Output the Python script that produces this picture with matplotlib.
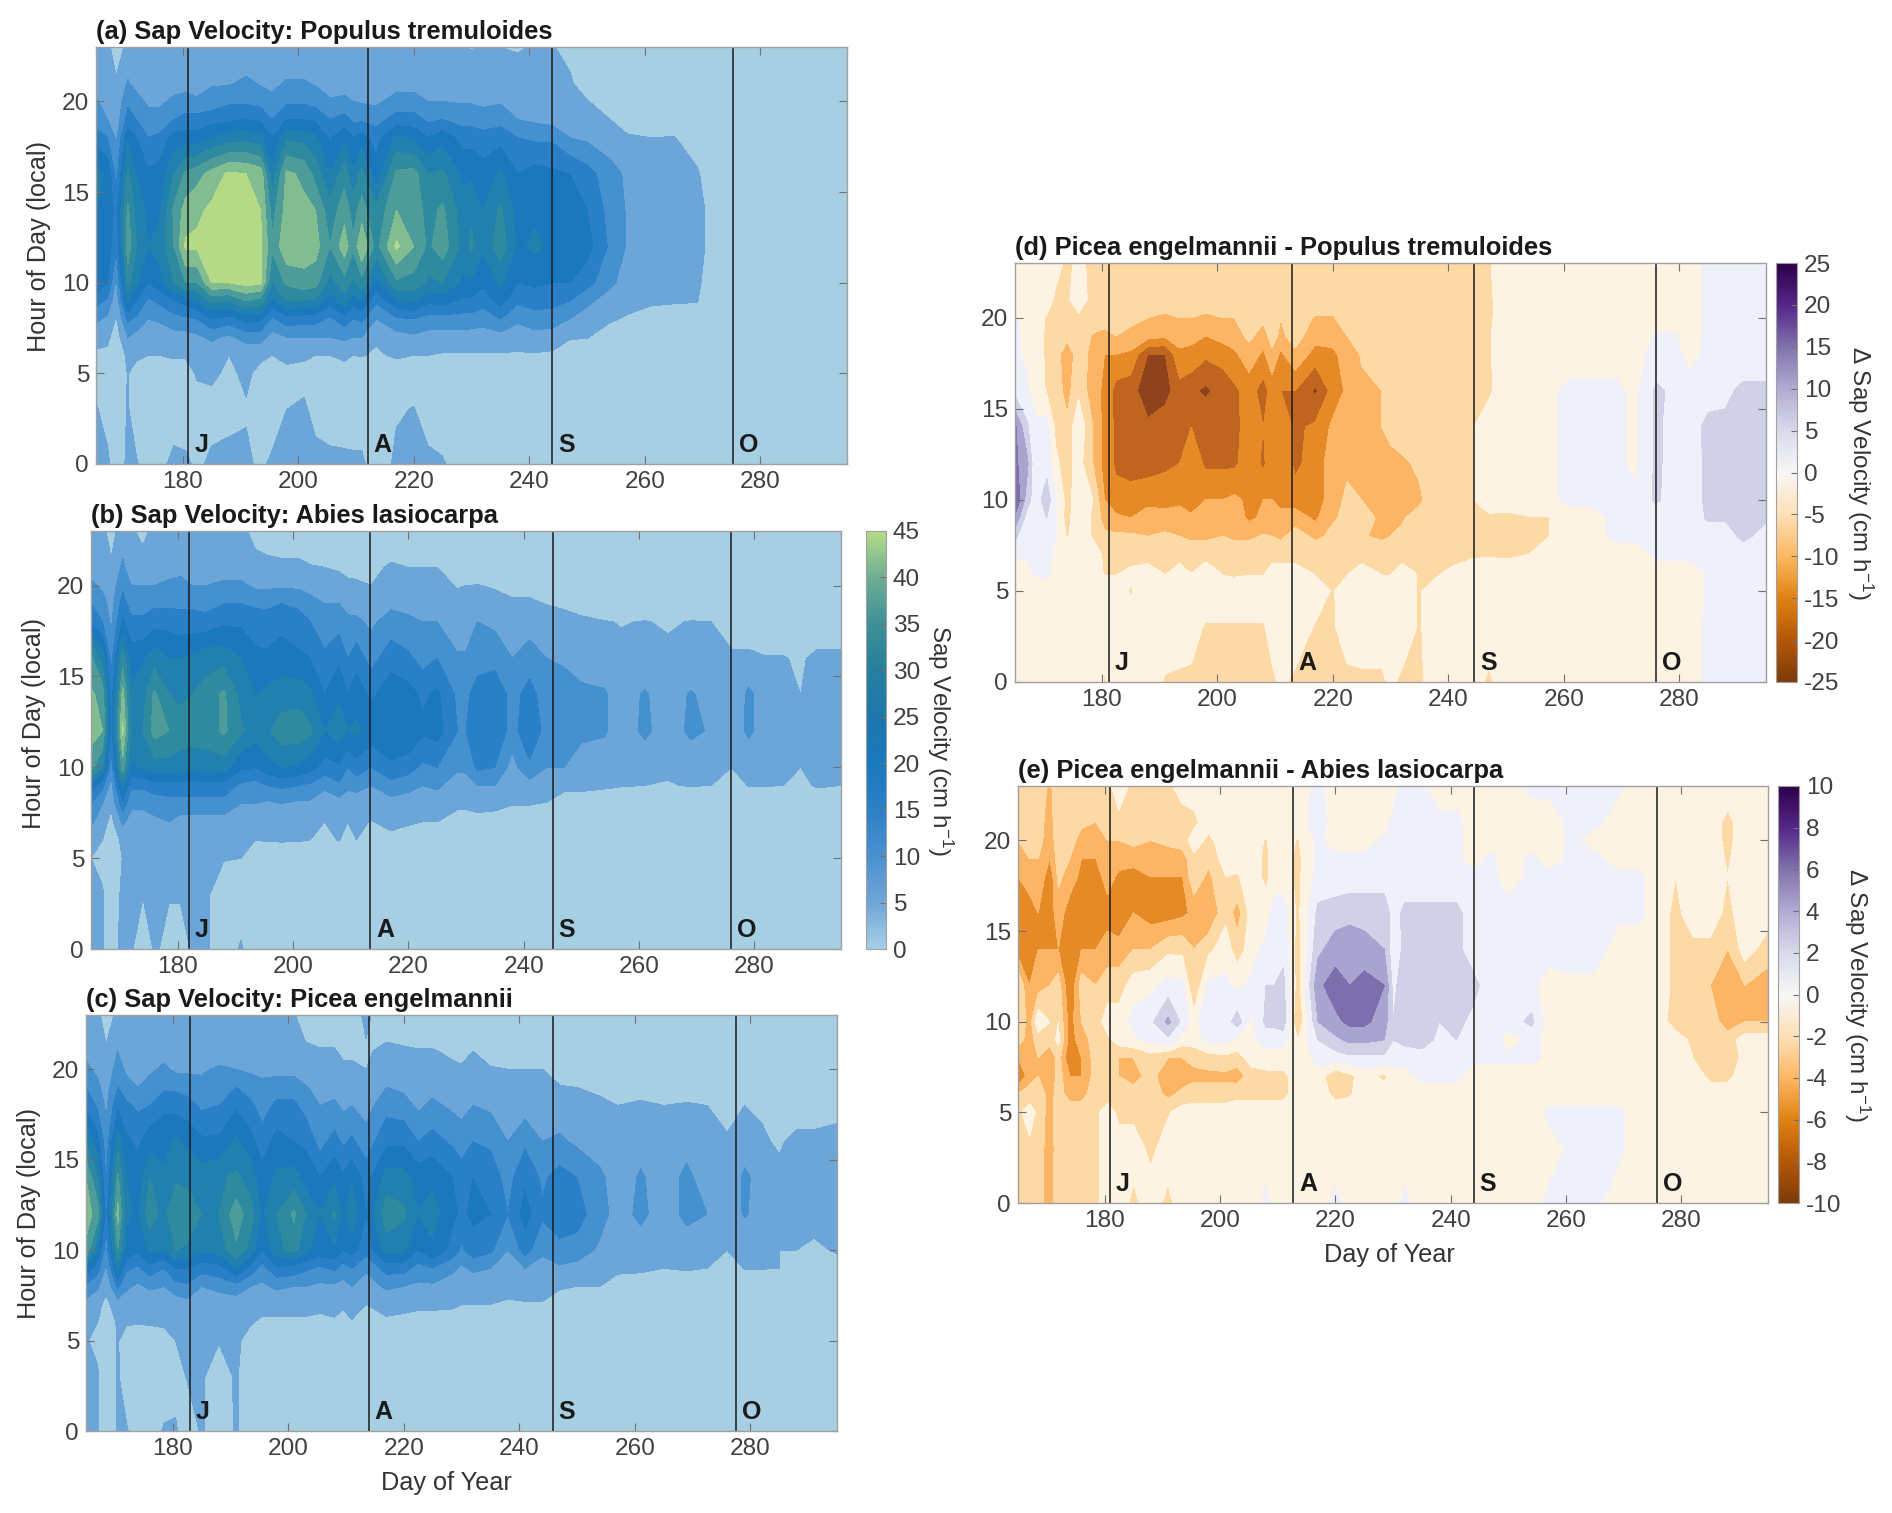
import matplotlib
matplotlib.use("Agg")
import matplotlib.pyplot as plt
import numpy as np
from matplotlib.colors import LinearSegmentedColormap, Normalize
from matplotlib.cm import ScalarMappable

plt.rcParams["font.family"] = ["Liberation Sans", "DejaVu Sans"]
plt.rcParams["mathtext.default"] = "regular"
plt.rcParams["axes.unicode_minus"] = False

W, H = 1892, 1513

# grid the values were read on, columns sit on the wet/dry day stripes
days = [165,167,168.5,170.5,172,174,176,178.5,180.5,182.5,
        185,188,191,193.5,195.5,198,201,203,205.5,208,
        209.5,211,213.5,217,220,222.5,225,228.5,230,232,
        235,238,241,244,247,250,254,257,261,265,
        269,272.5,276,279,282,285,288,291,295]
hours = [0,3,5,6,7,8,9,10,12,14,16,18,19,20,21,23]

sap_a = [
 [6,6,2,6,5.5,2,4,6,6,4, 6,6,6,4,6,6,6,6,6,6, 6,6,2,6,6,6,5.5,2,2,2, 5,2,2,2,2,2,2,2,2,2, 1,1,1,1,1,1,1,1,1],
 [5.5,3,1,5.5,2,2,2,3,2,3, 3,4,4.5,2,2,5,5.5,4,3,2.5, 2,2,2,4.5,5.2,3,2,2,2,2, 2,2,2,2,2,2,2,2,2,2, 1,1,1,1,1,1,1,1,1],
 [3,3,1,5.2,3,3,3,3,3,5.5, 6,4,6,3.5,3,4,4,3,3,3, 3,3,3,3,3,3,3,3,3,3, 3,3,3,3,2,2,2,2,2,2, 1,1,1,1,1,1,1,1,1],
 [4,4,1.5,6,6,5,5,5.5,5.5,6.5, 7,5,6.5,6,5,6,5.5,5,5,6, 5,5.2,4.5,5.5,5,5,4.5,4.5,4.5,4.5, 4.5,4.5,4.5,4,2,2,2,2,2,2, 1,1,1,1,1,1,1,1,1],
 [7,6,2.5,10,8,6,6,8,8,9, 11,9,12,12,8,10,10,10,10,11, 10,10,5.5,8,9,8,8,8,7.5,7.5, 8,7,8,8,5.5,5.2,3,2,2,2, 1,1,1,1,1,1,1,1,1],
 [11,9,4.5,16,14,10,11,13,14,15, 20,18,22,21,14,18,17,17,14,18, 15,16,10,14,15,13,13,13,13,12, 15,11,13,12,10,8,5.5,4.5,4.5,4, 3,1,1,1,1,1,1,1,1],
 [17,14,6,26,20,14,16,20,22,25, 31,30,35,33,24,30,30,29,22,28, 22,25,16,24,26,21,22,19,19,17, 22,16,17,17,15,11,8,6.5,5.2,5.2, 5.2,2,1,1,1,1,1,1,1],
 [24,20,9,32,26,20,23,30,35,35, 45,45,47,46,30,36,38,37,28,33, 29,33,23,34,33,29,30,24,24,21, 26,20,21,20,20,17,11,8,6.5,6.5, 5.8,2,1,1,1,1,1,1,1],
 [24,23,16,38,30,25,27,35,46,46, 47,48,48,46,36,44,43,42,35,43, 36,45,33,46,40,34,38,28,31,26, 33,24,26,24,24,22,14,9.5,8,8, 7,2,1,1,1,1,1,1,1],
 [25,24,18,36,28,24,24,36,42,44, 46,47,47,45,33,42,41,40,32,38, 33,37,31,40,38,33,36,27,29,25, 31,23,24,23,23,20,13,9.5,8,8, 7,2,1,1,1,1,1,1,1],
 [27,24,13,31,25,21,22,30,36,38, 42,46,45,43,27,41,39,33,25,33, 26,32,22,36,37,30,31,24,24,22, 26,20,22,21,20,17,12,9,7.5,7, 5.5,2,1,1,1,1,1,1,1],
 [18,15,9,24,20,15,16,22,22,22, 25,27,28,26,20,29,28,26,19,24, 20,22,18,26,24,20,23,18,18,17, 18,15,14,14,10,9,7,5.5,5,5.2, 3,1,1,1,1,1,1,1,1],
 [12,10,7,17,15,12,12,15,17,17, 18,19,20,19,15,20,20,19,15,17, 14,14,13,17,17,14,15,13,13,12, 13,10,9,8,7.5,6.5,5,3,2,2, 1,1,1,1,1,1,1,1,1],
 [10.5,8,6,14,12,9,9,11,11,11, 12,14,14,13,11,14,14,13,10.5,11, 10,9.5,9,12,12,10,10,9.5,9.5,9, 9.5,8,7,6.5,6,5.2,3,2,2,2, 1,1,1,1,1,1,1,1,1],
 [8,6,5.5,10.5,8,6,7,8,9,7, 9.5,9.5,11,9.5,9,10.5,10.5,9.5,8,8, 7,7,6.5,8,8,7,7,7,7,6, 6,6,6,6,5.5,3,2,2,2,2, 1,1,1,1,1,1,1,1,1],
 [6,6,3,6,6,6,6,6,6,6, 6,6,6,6,6,6,6,6,6,6, 6,6,6,6,6,6,5.2,5.2,4.8,5.2, 5,4.8,5.2,5.2,4,2,2,2,2,2, 1,1,1,1,1,1,1,1,1],
]

sap_b = [
 [5.5,5.5,2,7,5.5,2,5.5,4,2.5,5.5, 5.5,2.5,5.5,2,2,2,2,2,2,2, 2,2,2,2,2,2,2,2,2,2, 2,2,2,2,2,2,2,2,2,2, 2,2,2,2,2,2,2,2,2],
 [5.5,5.5,2,6,5.5,5.2,5.5,5.2,5.5,5.2, 5.5,3,2.5,2,2,2,2,2,2,2, 2,2,2,2,2,2,2,2,2,2, 2,2,2,2,2,2,2,2,2,2, 2,2,2,2,2,2,2,2,2],
 [5,3.5,1.5,5.2,5.2,5.2,5.5,5.5,5.5,5.5, 5.3,5.2,5,4,3,3.5,3,2.5,2,2, 2,2,2,2,2,2,2,2,2,2, 2,2,2,2,2,2,2,2,2,2, 2,2,2,2,2,2,2,2,2],
 [7,5,2.5,6,6,6,6,6,7,6, 6,6,6,5,5.2,5.2,5.2,5,4,5.2, 3.5,5,3,4,3,3,3,2,2,2, 2,2,2,2,2,2,2,2,2,2, 2,2,2,2,2,2,2,2,2],
 [11,7,3.5,11,8,8,9,10,8,8, 8,8,7,6,6,7,6,6,5,6, 5,6,4.8,6,5.5,5,5,4,4,4, 3.5,3,3,2,2,2,2,2,2,2, 2,2,2,2,2,2,2,2,2],
 [15,10,6,18,11,11,12,13,13,13, 13,13,10,10,9,10,9,9,7,8, 7,7,8,8,7,6,7,5.5,5.5,6, 6,5.2,5.2,4.8,3.5,3,3,2.5,2,2, 2,2,2,2,2,2,2,2,2],
 [23,16,8,27,16,16,18,18,18,18, 18,18,14,13,15,16,15,14,11,14, 11,12,10,13,12,10,11,7,8,10, 10,6,8,7.5,5.8,6,5.5,5.2,5,4.8, 5.2,5,3,5.2,5.2,5,4,5.5,5],
 [37,30,12,38,24,26,28,28,28,26, 28,27,21,20,23,25,24,22,18,19, 15,18,15,19,17,14,15,11,11,16, 15,8,14,10,10,8,7.5,5.5,7,5.5, 7,7.5,5,6,5.2,5.2,5,5.5,5],
 [42,40,18,46,28,30,37,35,32,33, 32,36,31,27,29,33,33,31,25,28, 25,26,23,24,25,21,22,15,15,19, 19,13,19,13,15,11,10.5,7.5,11,7.5, 11,9.5,7,11,7.5,7.5,6,7.5,7],
 [41,38,17,42,26,28,36,30,29,30, 32,36,28,25,26,27,28,26,20,24, 20,23,19,23,22,19,21,14,14,17, 19,13,17,12,13,11,10.5,8,10.5,7.5, 10.5,8,6,11,7.5,7.5,5,7,6],
 [36,28,13,33,23,24,28,25,25,26, 28,28,25,21,21,23,21,20,16,19, 15,18,13,18,16,13,15,10.5,10.5,13, 13,10,12.5,10,9,8,7.5,6,7,6, 6,5.5,5.5,6,5.2,5.2,4.5,6,6],
 [19,15,9,21,16,16,18,18,17,17, 17,19,19,18,17,18,17,15,12,13, 11,11,9,12,11,10,10,7.5,8,10, 9,6,7.5,6.5,6,5.5,5.2,4.8,5.2,4.5, 5.2,5,3.5,2,2,2,2,2,2],
 [15,12,8,17,13,13,14,14,14,14, 13,15,15,14,14,15,14,12,10,10, 8.5,8,6.5,9,8.5,7.5,8,6,6.5,7, 6,5.5,5.5,4.9,4.5,4,2.5,2,2,2, 2,2,2,2,2,2,2,2,2],
 [11,9,7,14,10,10,10,11,12,10, 10,11,11,9,9,9,9,8,7,6.5, 5.7,5.5,5,7,6,5.8,6,4.8,5,5.1, 4.7,4,4,3,2,2,2,2,2,2, 2,2,2,2,2,2,2,2,2],
 [8,6,5.5,11,7,6.5,8,8,8,8, 7,7.5,7.5,6,5.5,5.5,5.5,5.2,5,4.5, 4,4,4,5.5,5,5,5,3.5,3.5,3, 2,2,2,2,2,2,2,2,2,2, 2,2,2,2,2,2,2,2,2],
 [6,6,3.5,7,5.5,4,6,6,6,5.5, 6,6,5.8,4,4,3.5,3.5,2.5,2.5,2, 2,2,2,2,2,2,2,2,2,2, 2,2,2,2,2,2,2,2,2,2, 2,2,2,2,2,2,2,2,2],
]

sap_c = [
 [5.5,5.5,2,5.5,5.5,2,2,5.5,5.5,2.5, 5.5,2.5,5.5,2,2,2,2,2,2,2, 2,2,2,2,2,2,2,2,2,2, 2,2,2,2,2,2,2,2,2,2, 2,2,2,2,2,2,2,2,2],
 [5.5,5.5,2,5.5,2.5,2,4,2,3.5,5.2, 5.5,3,5.5,2,2,2,2,2,2,2, 2,2,2,2,2,2,2,2,2,2, 2,2,2,2,2,2,2,2,2,2, 2,2,2,2,2,2,2,2,2],
 [5.3,4,2,5.3,3,3,4,4.5,5,5.5, 5.5,5.2,5.5,4,2,2,2,2,2,2, 2,2,2,2,2,2,2,2,2,2, 2,2,2,2,2,2,2,2,2,2, 2,2,2,2,2,2,2,2,2],
 [5.3,5,2.5,5.5,5.5,5.2,5.2,5.2,5.3,6, 5.5,5,5.5,5.2,4.5,4.5,4.5,4.5,4.5,4.8, 4.5,4.8,4,4.5,4,4,4,3.5,3.5,3.5, 3,3,2,2,2,2,2,2,2,2, 2,2,2,2,2,2,2,2,2],
 [8,6,4,7,7,6,6,6,7,8, 6,6,7,6,6,6,6,6,5.5,5.5, 5.2,6,5,6,6,5.5,5.5,5.5,5,5, 5,4.8,4.8,4.8,3,2,2,2,2,2, 2,2,2,2,2,2,2,2,2],
 [14,11,6,16,11,9,11,10,13,14, 10,12,13,10,9,11,10,10,9,9, 8,10,7,11,10,9,9,7.5,7,7, 6.5,5.5,6,6,5.5,5,5,4,3.5,3, 2,2,2,2,2,2,2,2,2],
 [24,17,9,26,16,14,18,15,20,20, 17,18,25,18,13,19,18,16,14,16, 13,15,11,17,17,13,15,11,9,11, 10,7,10,8,9,8,6,5.5,5.5,5, 5.5,5,3,5.2,5.2,5,3.5,3.5,3],
 [39,25,12,35,23,21,26,25,30,29, 26,27,34,28,20,28,32,26,23,24, 20,22,17,27,26,20,24,18,14,18, 16,10,17,11,14,13,9,6,8,5.5, 8,7,5,6,5.5,5,5,4,5.5],
 [42,38,17,42,26,24,33,28,35,35, 30,30,38,32,24,30,36,30,25,31, 24,29,20,33,31,25,27,21,19,21, 20,15,22,16,17,17,12,8,11,8, 11,10,7,10.5,8,6,6,7,7],
 [40,30,14,36,25,22,30,26,29,28, 28,29,31,28,22,26,27,23,20,24, 21,24,18,27,27,23,24,20,17,20, 18,13,19,14,17,15,11,7.5,10.5,8, 11,8,6,11,8,6,7,7,6],
 [30,22,12,28,21,19,23,23,26,24, 21,21,26,22,17,22,20,19,13,17, 14,16,12,19,19,15,17,14,13,15, 14,10,14,10,11,9,7.5,6,8.5,6.5, 8.5,6,5.5,7.5,5.5,4.5,6,6,7],
 [19,14,9,19,16,14,15,19,18,17, 14,15,19,16,13,16,16,13,10,11, 9,10,8,13,12,9,11,9,8,10, 9,7,7.5,6.5,6.5,5.8,5.5,5,5.2,5, 5.2,5,3.5,5,4.5,2.5,3,3,3],
 [15,11,8,15,12,10,12,14,14,13, 12,13,15,13,12,13,13,10.5,8,8, 6.5,8,6,10,9,8,8.5,7,7,7.5, 7,5.5,5.8,5.2,5.2,5,4.5,4.2,4.5,4.2, 4,3.5,3.5,3.5,3,2,2,2,2],
 [11,9,7,12,9,7,9,11,9,9, 9,11,10,9,8,8,8,7,6,6, 5.5,5.5,5,6.5,6.5,6,6,5.5,5.2,5.5, 5.2,5,5,5,3.5,3,2,2,2,2, 2,2,2,2,2,2,2,2,2],
 [9,6,5.5,10,7,6,6,8,7,6.5, 6,6.5,6,6,6,5.5,5.5,5.5,5.2,5.2, 4.5,4.5,4.5,6,5.5,5.2,5.2,4.5,4.5,5, 4,3.5,3.5,3,2,2,2,2,2,2, 2,2,2,2,2,2,2,2,2],
 [6,6,3,6,5.5,5.5,5.5,5.5,5.5,5.5, 5.5,5.5,5.5,5.5,5.2,5.2,5.2,3.5,3,3, 3,3,6,2,2,2,2,2,2,2, 2,2,2,2,2,2,2,2,2,2, 2,2,2,2,2,2,2,2,2],
]

diff_d = [
 [-2,-2,-2,-2,-2,-2,-2,-2,-5.5,-2, -2,-2,-5.5,-6,-6,-6,-6,-6,-6,-6, -6,-4,-6,-6,-6,-6,-6,-6,-4,-6, -6,-2,-2,-2,-6,-2,-2,-2,-2,-2, -2,-2,-2,-2,-2,1,1,1,1],
 [-2,-2,-2,-2,-2,-2,-2,-2,-2,-2, -2,-2,-2,-2,-3,-5.5,-5.5,-5.5,-5.5,-5.5, -3,-2,-2,-5.5,-5.5,-3,-2,-2,-2,-2, -5.5,-2,-2,-2,-2,-2,-2,-2,-2,-2, -2,-2,-2,-2,-2,1,1,1,1],
 [-2,-2,-2,-2,-2,-2,-2,-2,-2,-2, -5.5,-2,-2,-2,-2,-2,-2,-2,-2,-2, -2,-2,-2,-2,-5.5,-2,-2,-2,-2,-2, -5.5,-2,-2,-2,-2,-2,-2,-2,-2,-2, -2,-2,-2,-2,-2,0.5,0.5,0.5,0.5],
 [-2,-1,0.5,1,-2,-2,-2,-2,-5.5,-5.5, -4,-3,-5.5,-3,-5.2,-2,-5.5,-6,-5.5,-5.5, -3,-3,-3,-5.5,-6,-5.5,-3,-5.5,-5.5,-3, -5.5,-6,-3,-2,-2,-2,-2,-2,-2,-2, -2,-2,-2,-2,-2,0.5,0.5,0.5,0.5],
 [0.5,0.5,1,2,-1,-1.5,-2,-2,-6,-6.5, -7,-7,-7,-7,-7,-7,-7,-7,-7,-7, -7,-7,-7,-7,-7,-7,-7,-7,-7,-7, -7,-7,-8,-6,-5.5,-6,-5,-2,-2,-2, -2,-2,1,1,1,0.5,1,0.5,0.5],
 [6,1,2,5,0.5,-5.5,-2,-5.5,-9,-9, -9,-10,-9,-10,-11,-11,-10,-11,-11,-9.5, -10,-11,-8,-11,-9,-9,-9.5,-11,-10,-9, -9,-7,-8,-6,-7,-7,-5.5,-5.5,-2,-1.5, 1,1,1,1,1,1,1,7,2],
 [14,3,2,5,0.5,-7,-1,-6,-12,-14, -15,-12,-13,-13,-14,-14,-12,-12,-16,-14, -12,-14,-12,-16,-10.5,-9,-8,-11,-10,-10.5, -8,-6,-7,-6,-6,-7,-5.5,-5.5,-2,-1.5, 1,1,1,1,1,6,6,7,6],
 [20,8,2,8,1,-7,-2,-5,-15,-18, -19,-17,-17,-16,-18,-15,-15,-14,-16,-15, -15,-16,-18,-18,-12,-9,-10,-13,-10,-10.5, -11,-6,-6,-5.5,-2,-1,-1,-1,1,1, 1,1,6,2,3,6,7,7,6],
 [16,12,1,3,-4,-7,-3,-10,-17,-21, -21,-22,-21,-20,-16,-21,-21,-21,-17,-21, -16,-16,-21,-18,-12,-11,-11,-11,-11,-11, -9,-6,-6,-5.5,-2,-1,-1,-1,1,1, 1,-1,6,3,3,6,5,8,6],
 [16,6,1,2,-6,-9,-1,-10,-17,-21, -23,-24,-22,-21,-20,-21,-21,-22,-17,-20, -16,-16,-21,-19,-14,-11,-10.5,-10,-9,-7, -7,-6,-6,-5.5,-2,-1,-1,-1,1,1, 1,-1,6,3,2,7,6,10,6],
 [3,1,-2,-5.5,-7,-12,-6,-13,-16,-22, -23,-28,-27,-22,-24,-26,-23,-21,-18,-22, -18,-20,-20,-26,-18,-14,-11,-10,-9,-9, -8,-7,-6,-5.5,-6,-2,-1.5,-1,1,1, 1,-1,6,4,1,2,4,6,6],
 [1,-1,-2,-6,-7,-14,-7,-12,-15,-15, -16,-25,-25,-16,-16,-19,-18,-16,-12,-16, -11,-16,-11,-17,-16,-13,-9.5,-8,-7,-7, -6,-6,-6,-5.5,-5.5,-2,-2,-2,-2,-2, -2,-1,1,1,-1,1,1,2,2],
 [1,-1,-2,-6,-7,-8,-7,-10.5,-12,-10, -11,-13,-14,-13,-14,-15,-13,-12,-9,-12, -8,-11,-8,-13,-13,-10,-7,-6,-6,-6, -6,-6,-6,-5.5,-5.5,-2,-2,-2,-2,-2, -2,-2,0.5,0.5,-2,1,1,1,1],
 [0.5,-2,-3,-5.5,-7,-7,-6,-7,-7,-8, -9,-10,-11,-10,-10,-11,-10,-10,-9,-9, -7,-10,-7,-10.5,-10.5,-7,-6,-6,-6,-6, -6,-6,-6,-5.5,-6,-2,-2,-2,-2,-2, -2,-2,-2,-2,-2,1,1,1,1],
 [-2,-2,-3,-2,-6,-6,-2,-7,-6,-6, -6,-7,-7,-7,-7,-7,-7,-7,-6,-7, -6,-6,-6,-7,-6,-6,-6,-6,-6,-6, -6,-6,-6,-6,-6,-2,-2,-2,-2,-2, -2,-2,-2,-2,-2,1,1,1,1],
 [-2,-2,-2,-2,-3,-6,-4,-6,-6,-6, -6,-6,-6,-6,-6,-6,-6,-6,-6,-6, -6,-6,-6,-6,-6,-6,-6,-6,-6,-6, -6,-6,-6,-6,-5.5,-2,-2,-2,-2,-2, -2,-2,-2,-2,-2,1,1,1,1],
]

diff_e = [
 [-2.5,-2.5,-3,-5,-2.5,-2.5,-2.5,-2.5,-1,-1, -2.5,-1,-2.5,-1,-1,-1,-1,-1,-1,0.5, -1,-1,-1,-1,0.5,-1,-1,-1,-1,0.5, -1,-1,-1,-1,-1,-1,-1,0.5,0.5,0.5, -1,-1,-1,-1,-1,-1,-1,-1,-1],
 [-2.5,-2.5,-2.5,-5.5,-2.5,-3,-2.5,-2.5,-1,-1, -1,-2.5,-1,-1,-1,-1,-1,-1,-1,-1, -1,-1,-1,-1,-1,-1,-1,-1,-1,-1, -1,-1,-1,-1,-1,-1,-1,-1,0.5,0.5, 0.5,-1,-1,-1,-1,-1,-1,-1,-1],
 [-2.5,-1,-2.5,-5,-2.5,-2.5,-2.5,-2.5,-1,-2.5, -2.5,-2.2,-2.2,-1,-1,-1,-1,-1,-1,-1, -1,-1,-1,-1,-1,-1,-1,-1,-1,-1, -1,-1,-1,-1,-1,-1,-1,0.5,0.5,0.5, 0.5,-1,-1,-1,-1,-1,-1,-1,-1],
 [-4,-3,-2.5,-5,-3,-5,-5,-2.5,-3,-2.5, -3,-3,-4.5,-3.5,-3,-3,-3,-2.5,-2.5,-2.5, -2.5,-2.5,-1,-1,-2.5,-2.2,-1,-1,-1,-1, -1,-1,-1,-1,-1,-1,-1,-1,-1,-1, -1,-1,-1,-1,-1,-1,-1,-1,-1],
 [-8,-5,-4,-6,-3,-6,-6,-3,-3,-4, -5,-3,-6,-5,-4.5,-4.5,-4.5,-5,-3,-2.5, -2.5,-2.5,-1,-1,-3.5,-2.5,-1,-2.5,-1,-1, 0.5,0.5,0.5,-1,-1,-1,-1,-1,-1,-1, -1,-1,-1,-1,-1,-2.5,-2.5,-1,-1],
 [-6,-4,-4,-6,-3,-8,-6,-3,-3,-4, -4,-3,-4,-4,-3.5,-3,-2.5,-3,-1,-1, -1,-1,-2,1,1,1.5,1.5,1.5,1,1, 1,1,1,0.5,0.5,0.5,0.5,-0.5,-0.5,-0.5, -1,-1,-1,-1,-2,-3,-4,-1,-1],
 [-3,-5,-3,-3,-1.5,-7,-5,-3,-2.5,-1, -0.5,0.7,1.5,-1,-1,0.7,0.5,-0.5,-0.5,1, 1,1,-2,2,3.5,4.5,4.5,4,2,2.5, 3,1.5,2,1,1,-1,0.5,-0.5,-0.5,-0.5, -1,-1,-1,-1,-2.5,-3,-3,-1,-1],
 [-2,-5,-0.5,-2,-2,-7,-4,-3,-1,-1, 0.7,1.5,4.5,1.5,-1,2,1,3,-0.5,2.5, 2.5,3,-4,4,5.5,6.5,6.5,5,2,2.5, 4,2,2.5,1.5,2,1,2.5,-1,-0.5,-0.5, -1,-1,-1,-3,-2.5,-3,-5,-4,-4],
 [-2,-6,-5,-4,-3,-8,-3,-4,-3,-3, -1,-0.5,0.7,0.5,-4,0.5,0.5,-0.5,0.5,2, 2,2.5,-3,5.5,7,6,7,6,1.5,3, 4,2.5,3.5,2.5,1,1,0.5,-1,-0.5,-0.5, -1,-1,-1,-2.5,-2.5,-4,-5,-4,-5],
 [-7,-8,-6,-6,-6,-8,-6,-6,-5,-5, -4,-4,-2.5,-2.5,-4,-2.5,-1,-3,-1,0.7, 2,1.5,-3,3.5,5,5,4.5,4,0.7,2.5, 4,2.5,2.5,1,1,0.7,1,1,1,1, -1,-1,-1,-2.5,-2.5,-2.5,-4,-1,-3],
 [-8,-7,-6,-7,-5,-7,-7,-6,-7,-8, -6,-7,-7,-6.5,-5.5,-6,-2.5,-5,-1,-1, 1,1,-2.5,2.5,3,3.5,3.5,3.5,1,2.5, 2.5,2.5,2.5,1,1.5,1,1,1,1,1, 0.5,0.5,-1,-2.5,-1,-1,-2.5,-1,-1],
 [-6,-5,-4,-7.5,-3.5,-5,-6.5,-7,-5,-6.5, -7,-6,-6,-6,-2.5,-4.5,-2,-2.2,-1,-2.5, -1,-1,-2.5,0.7,0.7,0.7,0.7,0.7,1,0.7, 0.7,0.7,0.7,0.5,0.5,-1,0.5,0.5,0.5,0.5, 0.5,0.5,-1,-2,-1,-1,-2,-1,-1],
 [-5,-4,-4,-6,-3,-4,-6,-6,-5,-5, -5,-5,-5,-5,-2.5,-3.5,-1,-1,-1,-2.5, -1,-1,-2.5,0.5,0.5,0.5,0.5,0.5,0.5,0.5, 0.5,0.5,0.5,-1,0.5,-1,0.5,-1,0.5,0.5, -1,-1,-1,-1,-1,-1,-2.2,-1,-1],
 [-4,-3,-3,-5.5,-2.5,-3,-5,-5,-4,-4, -3.5,-4,-3.5,-3,-1,-2.5,-1,-1,-1,-2.2, -1,-1,-2.2,0.5,-1,-1,-1,0.5,0.5,0.5, 0.5,0.5,0.5,-1,-1,-1,-1,-1,0.5,-1, -1,-1,-1,-1,-1,-1,-2.5,-1,-1],
 [-3,-2.5,-3,-5,-2.5,-3,-3.5,-4,-2.5,-2.5, -3,-3,-3,-3,-2.5,-1,-1,-1,-1,-1, -1,-1,-1,1,-1,-1,-1,-1,0.5,0.5, 0.5,0.5,0.5,-1,-1,-1,-1,-1,0.5,0.5, -1,-1,-1,-1,-1,-1,-2.5,-1,-1],
 [-2.5,-2.5,-2.5,-4.5,-2.5,-2.5,-2.5,-3,-2.5,-1, -2.5,-2.5,-2.5,-1,-1,-1,-1,-1,-1,-1, -1,-1,-1,0.5,-1,-1,-1,-1,-1,1, 0.5,-1,-1,-1,-1,-1,0.5,0.5,0.5,0.5, 0.5,-1,-1,-1,-1,-1,-1,-1,-1],
]

# month start lines per panel
months_a = [181, 212, 244, 275.3]
months_b = [182, 213.4, 245, 276]
months_c = [183, 214, 245.8, 277.5]
months_d = [181.3, 213, 244.5, 276]
months_e = [181, 212.7, 244, 275.8]
month_names = ["J", "A", "S", "O"]

sap_levels = [0, 5, 10, 15, 20, 25, 30, 35, 40, 45, 50]
sap_colors = ["#a6cfe4", "#6ca6d9", "#4590cf", "#2a80c6", "#1c78bc", "#2180ae", "#2d8a9f", "#4e9c9a", "#82bd92", "#b5da87"]
sap_bar = ["#a6cfe4", "#6fa6d8", "#4a90d0", "#2c80c6", "#1878bd", "#1f76ac", "#257f9c", "#3f8f97", "#6dae93", "#b5da87"]

diff_fill = ["#8f431c", "#c0651f", "#e68a28", "#fbb565", "#fdd9a5", "#fcf3e2", "#eff0f9", "#d0d1e6", "#a9a3cf", "#7d6fae", "#5f3c97"]
d_levels = [-35, -25, -20, -15, -10, -5, 0, 5, 10, 15, 20, 30]
e_levels = [-14, -10, -8, -6, -4, -2, 0, 2, 4, 6, 8, 14]

TXT = "#404040"
BOX = "#a0a0a0"
TICK_FS = 17.6
LABEL_FS = 18.2


def rect(x0, y0, x1, y1):
    return [x0 / W, 1 - y1 / H, (x1 - x0) / W, (y1 - y0) / H]


def panel(box, z, levels, colors, months, title, ylabel=None, ylab_y=0.52, xlab_x=0.5):
    ax = fig.add_axes(rect(*box))
    ax.contourf(days, hours, np.array(z), levels=levels, colors=colors)
    for m, name in zip(months, month_names):
        ax.axvline(m, color="#1a1a1a", lw=1.1)
        ax.text(m + 1.0, 1.05, name, fontsize=18, fontweight="bold", color="#1a1a1a", va="center")
    ax.set_xlim(165, 295)
    ax.set_ylim(0, 23)
    ax.set_xticks([180, 200, 220, 240, 260, 280])
    ax.set_yticks([0, 5, 10, 15, 20])
    ax.tick_params(direction="in", top=True, right=True, length=6, width=0.8, color="#707070",
                   labelsize=TICK_FS, labelcolor=TXT, pad=5)
    for s in ax.spines.values():
        s.set_color(BOX)
        s.set_linewidth(1.0)
    ax.set_title(title, loc="left", fontsize=18.4, fontweight="bold", color="#1a1a1a", pad=6)
    if ylabel:
        ax.set_ylabel(ylabel, fontsize=LABEL_FS, color="#333333")
        ax.yaxis.set_label_coords(-0.06, ylab_y)
    if xlab_x != 0.5:
        ax.set_xlabel("Day of Year", fontsize=LABEL_FS, color="#333333")
        ax.xaxis.set_label_coords(xlab_x, -0.096)
    return ax


def bar(box, cmap, vmin, vmax, ticks, label, labelpad):
    cax = fig.add_axes(rect(*box))
    cb = fig.colorbar(ScalarMappable(Normalize(vmin, vmax), cmap), cax=cax)
    cb.set_ticks(ticks)
    cb.ax.tick_params(direction="in", length=4, width=0.8, color="#707070", labelsize=TICK_FS,
                      labelcolor=TXT, pad=5)
    cb.outline.set_edgecolor(BOX)
    cb.set_label(label, rotation=270, fontsize=17.5, color="#333333", labelpad=labelpad)


fig = plt.figure(figsize=(W / 100, H / 100), dpi=100)

panel((96, 47, 847, 464), sap_a, sap_levels, sap_colors, months_a,
      "(a) Sap Velocity: Populus tremuloides", ylabel="Hour of Day (local)", ylab_y=0.522)
panel((91, 531, 841, 949), sap_b, sap_levels, sap_colors, months_b,
      "(b) Sap Velocity: Abies lasiocarpa", ylabel="Hour of Day (local)", ylab_y=0.54)
panel((86, 1015, 837, 1431), sap_c, sap_levels, sap_colors, months_c,
      "(c) Sap Velocity: Picea engelmannii", ylabel="Hour of Day (local)", ylab_y=0.524, xlab_x=0.48)
panel((1015, 263, 1766, 682), diff_d, d_levels, diff_fill, months_d,
      "(d) Picea engelmannii - Populus tremuloides")
panel((1018, 786, 1768, 1203), diff_e, e_levels, diff_fill, months_e,
      "(e) Picea engelmannii - Abies lasiocarpa", xlab_x=0.495)

sap_cmap = LinearSegmentedColormap.from_list("sap", sap_bar)
bar((866, 531, 886, 949), sap_cmap, 0, 45, list(range(0, 50, 5)), "Sap Velocity (cm h$^{-1}$)", 25)
bar((1776, 263, 1797, 682), plt.cm.PuOr, -25, 25, list(range(-25, 30, 5)), "Δ Sap Velocity (cm h$^{-1}$)", 26)
bar((1778, 786, 1799, 1203), plt.cm.PuOr, -10, 10, list(range(-10, 12, 2)), "Δ Sap Velocity (cm h$^{-1}$)", 22)

fig.savefig("out.png", dpi=100)
